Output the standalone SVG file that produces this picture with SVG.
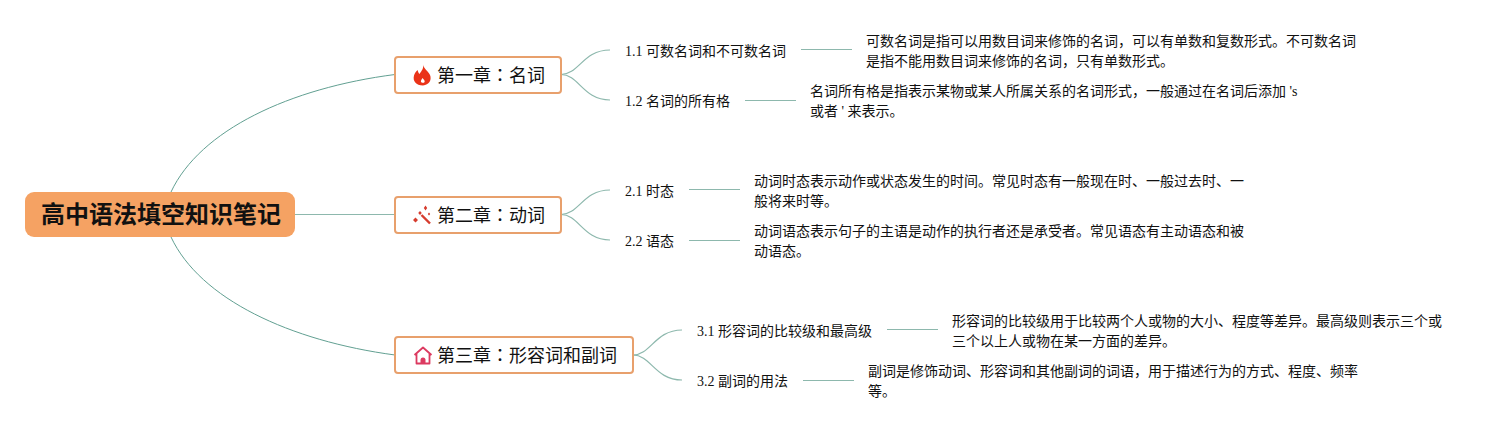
<svg xmlns="http://www.w3.org/2000/svg" width="1512" height="430" viewBox="0 0 1512 430">
<style>
text{font-family:"Liberation Serif","Noto Sans CJK SC",serif;fill:#111}
.t{font-size:14px}
.c{font-size:18px}
.k{font-family:"Noto Sans CJK TC",sans-serif}
.r{font-size:24px;font-weight:700}
.box{fill:#fff;stroke:#e8a06c;stroke-width:2}
.l{fill:none;stroke:#62a092;stroke-width:1}
.m{fill:none;stroke:#8db8ad;stroke-width:1.200}
</style>
<rect width="1512" height="430" fill="#fff"/>
<g id="connectors">
<path class="l" d="M171 192C200 130 290 88 395 74.500"/>
<path class="m" d="M295 214.500H395"/>
<path class="l" d="M171 237C200 299 290 341 395 355"/>
<path class="m" d="M561 74.500C579 74.500 583 50 610 50"/>
<path class="m" d="M561 74.500C579 74.500 583 100 610 100"/>
<path class="m" d="M561 214.500C579 214.500 583 190 610 190"/>
<path class="m" d="M561 214.500C579 214.500 583 240 610 240"/>
<path class="m" d="M633 355C651 355 655 330 682 330"/>
<path class="m" d="M633 355C651 355 655 380 682 380"/>
<path class="m" d="M801 49.500H852"/>
<path class="m" d="M745 100.500H796"/>
<path class="m" d="M689 189.500H740"/>
<path class="m" d="M689 240.500H740"/>
<path class="m" d="M887 329.500H938"/>
<path class="m" d="M803 380.500H854"/>
</g>
<g id="root"><rect x="25" y="192" width="270" height="45" rx="9" fill="#f5a263"/><text class="r" x="41" y="223">高中语法填空知识笔记</text></g>
<g id="ch1"><rect class="box" x="395" y="57" width="166" height="36" rx="3"/>
<path fill="#ea3318" fill-rule="evenodd" d="M423 64.500C424 69 428 71 430 75C432 80 429 85 423 85.500C416 85.500 412.500 81 414 75.500C414.500 73.500 416 71.500 417.500 70C418 71.500 418.500 73 419.500 74C421.500 71 424 68 423 64.500ZM422.500 78C421.800 79.500 420.500 80.500 421 82C421.500 83 424 83.200 424.600 82C425.200 80.500 423.500 79.500 422.500 78Z"/>
<text class="c" x="437" y="82">第一章<tspan class="k">：</tspan>名词</text></g>
<g id="ch2"><rect class="box" x="395" y="197" width="166" height="36" rx="3"/>
<path fill="none" stroke="#d63c2e" stroke-width="2.400" d="M421.500 215L430 223.500"/>
<path fill="#d63c2e" d="M425.500 205.500L427.200 208L425.500 210.500L423.800 208ZM415.500 217.500L418 220L415.500 222.500L413 220ZM420 211L421.800 213L420 215L418.200 213ZM429 212.500L430.200 214L429 215.500L427.800 214Z"/>
<text class="c" x="437" y="222">第二章<tspan class="k">：</tspan>动词</text></g>
<g id="ch3"><rect class="box" x="395" y="337" width="238" height="36" rx="3"/>
<path fill="none" stroke="#dc3a60" stroke-width="1.800" stroke-linejoin="round" d="M414.500 355L423 347.500L431.500 355M416.500 353.500V363.500H429.500V353.500"/><path fill="#dc3a60" d="M420.500 364V360A2.500 2.500 0 0 1 425.500 360V364Z"/>
<text class="c" x="437" y="362">第三章<tspan class="k">：</tspan>形容词和副词</text></g>
<g id="n11"><text class="t" x="625" y="56">1.1 可数名词和不可数名词</text></g>
<g id="n11d"><text class="t" x="866" y="46">可数名词是指可以用数目词来修饰的名词，可以有单数和复数形式。不可数名词</text><text class="t" x="866" y="66">是指不能用数目词来修饰的名词，只有单数形式。</text></g>
<g id="n12"><text class="t" x="625" y="106">1.2 名词的所有格</text></g>
<g id="n12d"><text class="t" x="810" y="96">名词所有格是指表示某物或某人所属关系的名词形式，一般通过在名词后添加 's</text><text class="t" x="810" y="116">或者 ' 来表示。</text></g>
<g id="n21"><text class="t" x="625" y="196">2.1 时态</text></g>
<g id="n21d"><text class="t" x="754" y="186">动词时态表示动作或状态发生的时间。常见时态有一般现在时、一般过去时、一</text><text class="t" x="754" y="206">般将来时等。</text></g>
<g id="n22"><text class="t" x="625" y="246">2.2 语态</text></g>
<g id="n22d"><text class="t" x="754" y="236">动词语态表示句子的主语是动作的执行者还是承受者。常见语态有主动语态和被</text><text class="t" x="754" y="256">动语态。</text></g>
<g id="n31"><text class="t" x="697" y="336">3.1 形容词的比较级和最高级</text></g>
<g id="n31d"><text class="t" x="952" y="326">形容词的比较级用于比较两个人或物的大小、程度等差异。最高级则表示三个或</text><text class="t" x="952" y="346">三个以上人或物在某一方面的差异。</text></g>
<g id="n32"><text class="t" x="697" y="386">3.2 副词的用法</text></g>
<g id="n32d"><text class="t" x="868" y="376">副词是修饰动词、形容词和其他副词的词语，用于描述行为的方式、程度、频率</text><text class="t" x="868" y="396">等。</text></g>
</svg>
